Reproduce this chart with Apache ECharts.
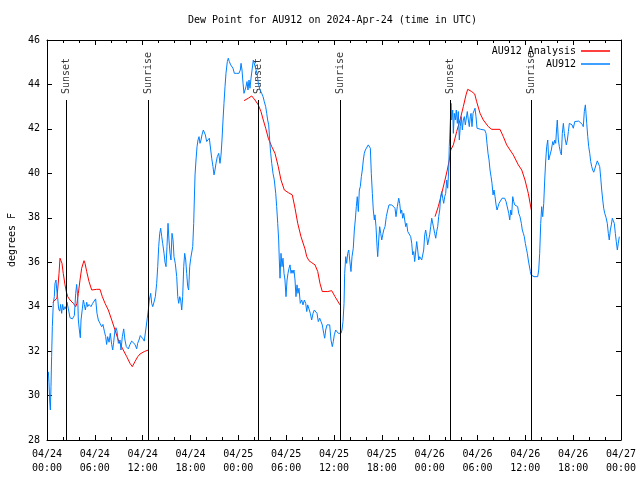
<!DOCTYPE html>
<html><head><meta charset="utf-8">
<script src="https://cdn.jsdelivr.net/npm/echarts@6/dist/echarts.min.js"></script>
<style>html,body{margin:0;padding:0;background:#fff}#c{width:640px;height:480px}</style>
</head><body><div id="c"></div>
<script>
// Hours since 2024-04-24 00:00 UTC
const xTickLabels = ['04/24\n00:00','04/24\n06:00','04/24\n12:00','04/24\n18:00','04/25\n00:00','04/25\n06:00','04/25\n12:00','04/25\n18:00','04/26\n00:00','04/26\n06:00','04/26\n12:00','04/26\n18:00','04/27\n00:00'];
const eventTimes = [2.42, 12.71, 26.5, 36.8, 50.6, 60.77];
const eventNames = ['Sunset','Sunrise','Sunset','Sunrise','Sunset','Sunrise'];
const eventTop = 43.3;

const analysisNight1 = [[0.72,34.2],[1.25,34.38],[1.51,35.5],[1.63,36.18],[1.72,36.25],[1.88,35.95],[2.04,35.5],[2.26,34.98],[2.42,34.68],[2.6,34.45],[2.89,34.3],[3.3,34.15],[3.6,34.0],[3.76,34.15],[3.93,34.6],[4.14,35.2],[4.35,35.73],[4.64,36.07],[4.77,35.95],[4.98,35.58],[5.27,35.13],[5.61,34.75],[6.23,34.78],[6.65,34.78],[6.94,34.45],[7.28,34.15],[7.69,33.85],[8.12,33.4],[8.53,32.95],[8.94,32.5],[9.45,32.13],[10.0,31.75],[10.41,31.45],[10.7,31.3],[11.04,31.53],[11.38,31.75],[11.67,31.87],[12.2,31.98],[12.71,32.05]];
const analysisNight2 = [[24.71,43.27],[25.25,43.38],[25.68,43.48],[26.09,43.3],[26.5,43.08],[26.84,42.78],[27.13,42.4],[27.43,42.03],[27.76,41.58],[28.19,41.2],[28.6,40.9],[29.01,40.3],[29.35,39.7],[29.77,39.25],[30.27,39.13],[30.77,39.03],[31.11,38.43],[31.45,37.75],[31.86,37.15],[32.36,36.6],[32.58,36.25],[32.86,36.07],[33.2,35.98],[33.62,35.88],[33.96,35.58],[34.24,35.05],[34.53,34.68],[34.78,34.6],[35.21,34.68],[35.71,34.72],[36.13,34.45],[36.75,34.08]];
const analysisNight3 = [[48.67,38.05],[49.08,38.5],[49.51,39.1],[49.92,39.7],[50.21,40.15],[50.46,40.6],[50.64,41.05],[50.97,41.28],[51.39,41.88],[51.81,42.4],[52.22,43.0],[52.56,43.53],[52.77,43.78],[53.27,43.68],[53.65,43.57],[53.9,43.22],[54.32,42.7],[54.73,42.4],[55.36,42.1],[55.78,41.98],[56.82,41.98],[57.24,41.65],[57.66,41.28],[58.08,41.05],[58.49,40.83],[59.12,40.38],[59.55,40.15],[59.96,39.7],[60.37,39.1],[60.75,38.35]];

const obsDay1 = [[0.17,31.07],[0.25,30.6],[0.33,29.8],[0.42,29.35],[0.5,30.4],[0.58,31.75],[0.67,33.1],[0.79,34.15],[0.92,34.45],[1.0,35.05],[1.13,35.2],[1.21,34.8],[1.34,34.4],[1.46,33.9],[1.59,33.8],[1.71,34.1],[1.84,33.7],[1.96,34.1],[2.09,33.85],[2.26,34.0],[2.38,33.9],[2.51,34.2],[2.68,33.9],[2.89,33.5],[3.18,33.45],[3.43,33.6],[3.6,34.6],[3.72,35.0],[3.85,34.45],[3.93,33.4],[4.06,32.95],[4.18,32.6],[4.27,33.4],[4.43,33.9],[4.56,34.3],[4.68,34.1],[4.81,33.85],[4.98,34.2],[5.1,34.0],[5.27,34.1],[5.52,34.0],[5.73,34.15],[5.94,34.2],[6.1,34.35],[6.27,33.7],[6.44,33.4],[6.65,33.25],[6.86,33.1],[7.02,33.2],[7.19,32.9],[7.36,32.65],[7.48,32.3],[7.61,32.65],[7.78,32.4],[7.94,32.8],[8.11,32.3],[8.24,32.05],[8.36,32.4],[8.53,32.95],[8.66,33.05],[8.78,32.9],[8.95,32.35],[9.16,32.5],[9.28,32.05],[9.45,32.65],[9.62,33.0],[9.7,33.05],[9.78,32.5],[9.95,32.2],[10.2,32.1],[10.41,32.3],[10.62,32.45],[10.83,32.5],[11.04,32.3],[11.25,32.1],[11.37,32.35],[11.54,32.5],[11.7,32.7],[11.88,32.65],[12.04,32.55],[12.2,32.45],
[12.58,33.48],[12.71,33.85],[12.83,34.3],[13.01,34.6],[13.13,34.15],[13.26,34.0],[13.42,34.2],[13.59,34.45],[13.76,35.05],[13.89,35.8],[14.01,36.7],[14.14,37.3],[14.26,37.53],[14.39,37.15],[14.51,36.85],[14.68,36.4],[14.8,36.0],[14.93,35.8],[15.05,36.7],[15.18,37.75],[15.3,37.0],[15.43,36.4],[15.55,36.1],[15.68,37.3],[15.81,37.0],[15.93,36.25],[16.09,35.95],[16.27,35.35],[16.4,34.45],[16.52,34.15],[16.65,34.45],[16.77,34.3],[16.9,33.85],[17.02,34.45],[17.15,35.8],[17.27,36.4],[17.4,36.1],[17.52,35.5],[17.65,34.9],[17.77,34.75],[17.9,35.8],[18.03,36.18],[18.15,36.1],[18.28,36.7],[18.4,37.75],[18.48,38.8],[18.57,39.93],[18.69,40.6],[18.82,41.2],[18.94,41.5],[19.07,41.65],[19.19,41.35],[19.32,41.5],[19.44,41.73],[19.61,41.95],[19.73,41.98],[19.86,41.73],[20.03,41.43],[20.2,41.5],[20.36,41.58],[20.54,41.05],[20.66,40.68],[20.82,40.3],[20.95,39.93],[21.07,40.15],[21.2,40.45],[21.36,40.75],[21.54,40.9],[21.7,40.45],[21.83,40.83],[21.95,41.5],[22.08,42.4],[22.2,43.15],[22.33,43.9],[22.45,44.5],[22.62,45.03],[22.74,45.18]];
const obsDay2 = [[22.87,45.03],[23.04,44.88],[23.17,44.95],[23.33,44.73],[23.5,44.5],[23.8,44.5],[24.08,44.5],[24.25,44.65],[24.34,44.95],[24.46,44.65],[24.59,44.05],[24.71,43.6],[24.84,43.75],[24.96,43.9],[25.09,44.13],[25.21,43.75],[25.34,44.2],[25.46,43.83],[25.59,44.28],[25.72,44.65],[25.88,45.1],[26.0,45.18],[26.13,45.03],[26.34,44.5],[26.51,44.05],[26.72,43.75],[26.93,43.6],[27.1,43.45],[27.26,43.22],[27.43,43.0],[27.56,42.7],[27.68,42.4],[27.81,42.18],[27.93,41.5],[28.06,40.9],[28.19,40.45],[28.35,40.0],[28.51,39.7],[28.69,39.1],[28.81,38.5],[28.94,37.75],[29.06,37.0],[29.14,36.1],[29.23,35.28],[29.35,36.4],[29.48,35.8],[29.6,36.18],[29.73,35.5],[29.85,35.2],[29.98,34.45],[30.11,35.2],[30.23,35.5],[30.36,35.73],[30.48,35.88],[30.61,35.5],[30.73,35.65],[30.86,35.5],[30.98,35.65],[31.11,35.2],[31.23,34.45],[31.36,34.98],[31.48,34.6],[31.61,34.83],[31.77,34.15],[31.95,34.3],[32.11,34.08],[32.28,34.3],[32.45,34.15],[32.58,33.78],[32.7,34.08],[32.87,34.0],[33.03,33.7],[33.2,33.4],[33.37,33.7],[33.53,33.85],[33.71,33.93],[33.87,33.7],[34.03,33.33],[34.21,33.48],[34.37,33.33],[34.53,33.18],[34.71,32.8],[34.83,32.58],[34.96,32.95],[35.12,33.18],[35.29,33.25],[35.46,33.18],[35.62,32.5],[35.79,32.2],[35.91,32.43],[36.04,32.73],[36.21,32.95],[36.38,33.03],[36.54,32.8],[36.72,32.73],[36.88,32.8],[37.0,32.95],[37.13,33.33],[37.26,34.15],[37.34,35.5],[37.47,36.25],[37.59,35.95],[37.72,36.4],[37.85,36.55],[37.97,36.1],[38.13,35.58],[38.26,36.25],[38.42,36.63],[38.55,37.45],[38.67,37.9],[38.8,38.5],[38.92,38.95],[39.05,38.28],[39.18,39.25],[39.3,39.4],[39.43,39.85],[39.55,40.15],[39.68,40.6],[39.8,40.9],[39.93,41.05],[40.05,40.98],[40.18,41.13],[40.3,41.28],[40.43,41.35],[40.56,41.13],[40.68,40.0],[40.81,39.1],[40.93,38.35],[41.06,37.9],[41.14,38.13],[41.27,37.6],[41.4,36.7],[41.48,36.25],[41.61,37.0],[41.73,37.6],[41.86,37.3],[41.99,37.0],[42.11,37.23],[42.24,37.45],[42.4,37.6],[42.56,38.05],[42.74,38.35],[42.9,38.58],[43.06,38.65],[43.24,38.58],[43.44,38.5],[43.65,38.43],[43.78,38.05],[43.94,38.5],[44.12,38.88],[44.24,38.65],[44.37,38.2],[44.49,38.35],[44.62,37.98],[44.75,38.2],[44.87,37.9],[45.0,37.6],[45.12,37.75],[45.25,37.38],[45.37,37.38],[45.5,37.3],[45.62,37.15],[45.75,36.85],[45.87,36.33],[46.0,36.48],[46.12,36.03],[46.25,36.1],[46.37,36.93],[46.5,36.55],[46.63,36.1],[46.75,36.25],[46.88,36.18],[47.0,36.1],[47.13,36.03],[47.25,36.55],[47.38,37.23],[47.5,37.45],[47.63,37.15],[47.75,36.78],[47.88,36.85]];
const obsDay3 = [[48.0,37.23],[48.13,37.6],[48.26,37.98],[48.38,38.05],[48.51,37.9],[48.63,37.3],[48.76,37.08],[48.88,37.38],[49.01,37.6],[49.13,38.05],[49.26,38.35],[49.38,38.95],[49.51,39.18],[49.64,38.88],[49.76,38.65],[49.89,38.95],[50.01,39.1],[50.14,39.7],[50.26,39.33],[50.39,40.15],[50.46,41.2],[50.55,41.95],[50.68,43.15],[50.76,42.4],[50.89,42.85],[50.97,41.8],[51.09,42.7],[51.22,42.4],[51.34,42.85],[51.47,42.25],[51.59,42.78],[51.72,41.5],[51.84,42.1],[51.97,42.55],[52.1,41.95],[52.22,42.4],[52.35,42.55],[52.47,42.18],[52.6,42.1],[52.72,42.78],[52.85,42.4],[52.97,42.1],[53.1,42.55],[53.19,42.7],[53.31,42.1],[53.44,42.7],[53.56,42.78],[53.69,42.93],[53.81,42.55],[53.94,42.03],[54.15,41.98],[54.4,41.98],[54.65,41.98],[54.9,41.95],[55.07,41.8],[55.19,41.35],[55.32,40.9],[55.45,40.6],[55.57,40.15],[55.7,39.85],[55.82,39.55],[55.95,39.03],[56.07,39.25],[56.2,38.95],[56.33,38.58],[56.45,38.35],[56.58,38.5],[56.7,38.65],[56.83,38.58],[56.95,38.73],[57.08,38.88],[57.24,38.88],[57.41,38.88],[57.58,38.73],[57.74,38.65],[57.92,38.2],[58.04,37.9],[58.17,38.35],[58.29,38.13],[58.42,38.95],[58.54,38.73],[58.67,38.58],[58.79,38.65],[58.92,38.58],[59.04,38.5],[59.17,38.2],[59.33,38.05],[59.5,37.75],[59.62,37.45],[59.75,37.3],[59.87,37.15],[60.0,36.85],[60.12,36.63],[60.25,36.4],[60.37,36.1],[60.5,36.03],[60.63,35.58],[60.71,35.43],[60.84,35.35],[61.09,35.35],[61.34,35.35],[61.55,35.35],[61.68,35.65],[61.8,36.4],[61.93,37.75],[62.05,38.5],[62.18,38.05],[62.31,38.65],[62.43,39.7],[62.56,40.6],[62.68,41.2],[62.81,41.5],[62.93,40.6],[63.1,40.68],[63.26,41.05],[63.44,41.43],[63.56,41.28],[63.69,41.5],[63.81,41.35],[63.94,42.1],[64.01,42.4],[64.14,41.5],[64.27,41.2],[64.39,40.98],[64.52,40.83],[64.64,41.8],[64.77,42.25],[64.89,41.8],[65.02,41.5],[65.14,41.28],[65.27,41.5],[65.4,41.88],[65.52,42.25],[65.7,42.33],[65.86,42.18],[66.02,42.03],[66.2,42.33],[66.45,42.35],[66.7,42.35],[66.95,42.3],[67.15,42.2],[67.27,42.1],[67.4,42.78],[67.53,43.08],[67.61,42.7],[67.7,42.25],[67.83,41.65],[67.95,41.2],[68.08,40.9],[68.2,40.53],[68.33,40.3],[68.45,40.15],[68.58,40.05],[68.74,40.08],[68.87,40.38],[69.03,40.56],[69.21,40.56],[69.33,40.3],[69.46,39.78],[69.58,39.25],[69.71,38.8],[69.83,38.43],[69.96,38.2],[70.12,38.02],[70.28,37.75],[70.41,37.3],[70.53,37.0],[70.66,37.45],[70.79,37.68],[70.91,37.98],[71.04,38.05],[71.16,37.75],[71.29,37.3],[71.41,36.93],[71.54,36.55],[71.66,36.85],[71.79,37.15]];

const FONT = 'DejaVu Sans Mono';
const analysis = analysisNight1.concat([[13.0, null]], analysisNight2, [[40.0, null]], analysisNight3);
const obs = obsDay1.concat(obsDay2, obsDay3);

const chart = echarts.init(document.getElementById('c'), null, {renderer: 'canvas'});
const txt = {fontFamily: FONT, fontSize: 10, color: '#000'};
const xBase = {
  type: 'value', min: 0, max: 72, interval: 6,
  axisLine: {show: true, onZero: false, lineStyle: {color: '#000', width: 1}},
  axisTick: {show: true, inside: true, length: 5, lineStyle: {color: '#000'}},
  minorTick: {show: true, splitNumber: 3, length: 3, lineStyle: {color: '#000'}},
  splitLine: {show: false}, minorSplitLine: {show: false}
};
const yBase = {
  type: 'value', min: 28, max: 46, interval: 2,
  axisLine: {show: true, onZero: false, lineStyle: {color: '#000', width: 1}},
  axisTick: {show: true, inside: true, length: 5, lineStyle: {color: '#000'}},
  splitLine: {show: false}
};
chart.setOption({
  animation: false,
  backgroundColor: '#fff',
  title: {text: 'Dew Point for AU912 on 2024-Apr-24 (time in UTC)', left: 183, top: 10,
    textStyle: Object.assign({fontWeight: 'normal'}, txt)},
  grid: {left: 47, right: 19, top: 40, bottom: 40, containLabel: false, outerBoundsMode: 'none'},
  legend: {orient: 'vertical', right: 25, top: 40, align: 'right', icon: 'rect',
    itemWidth: 29, itemHeight: 1.5, itemGap: 1, textStyle: Object.assign({lineHeight: 12}, txt),
    data: ['AU912 Analysis', 'AU912']},
  xAxis: [
    Object.assign({}, xBase, {position: 'bottom',
      axisLabel: Object.assign({margin: 7, lineHeight: 14, showMinLabel: true, showMaxLabel: true,
        formatter: v => xTickLabels[Math.round(v / 6)]}, txt)}),
    Object.assign({}, xBase, {position: 'top', axisLabel: {show: false}})
  ],
  yAxis: [
    Object.assign({}, yBase, {position: 'left', name: 'degrees F', nameLocation: 'middle', nameGap: 30,
      nameRotate: 90, nameTextStyle: txt, axisLabel: Object.assign({margin: 7}, txt)}),
    Object.assign({}, yBase, {position: 'right', axisLabel: {show: false}})
  ],
  series: [
    {name: 'AU912 Analysis', type: 'line', data: analysis, showSymbol: false, symbol: 'none',
      connectNulls: false, lineStyle: {color: '#ff0000', width: 1}, itemStyle: {color: '#ff0000'}, z: 3},
    {name: 'AU912', type: 'line', data: obs, showSymbol: false, symbol: 'none',
      lineStyle: {color: '#0080ff', width: 1}, itemStyle: {color: '#0080ff'}, z: 4},
    {name: 'events', type: 'scatter', symbolSize: 0, data: eventTimes.map(t => [t, eventTop]), z: 2,
      label: Object.assign({show: true, formatter: p => eventNames[p.dataIndex], rotate: 90,
        position: 'top', distance: 6, align: 'left', verticalAlign: 'middle'}, txt),
      markLine: {silent: true, symbol: ['none', 'none'], label: {show: false},
        lineStyle: {color: '#000', width: 1, type: 'solid'},
        data: eventTimes.map(t => [{coord: [t, 28]}, {coord: [t, eventTop]}])}}
  ]
});
</script></body></html>
